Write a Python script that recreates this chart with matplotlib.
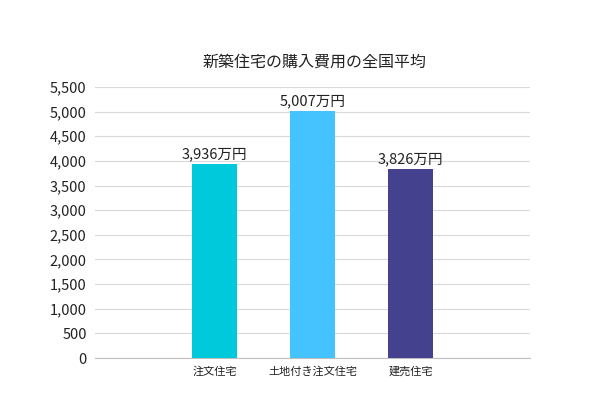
import matplotlib.pyplot as plt

plt.rcParams['font.family'] = ['Noto Sans CJK JP', 'DejaVu Sans']

categories = ['注文住宅', '土地付き注文住宅', '建売住宅']
values = [3936, 5007, 3826]
bar_colors = ['#00C9DB', '#45C3FF', '#44428F']
yticks = list(range(0, 5501, 500))

fig = plt.figure(figsize=(6, 4), dpi=100)
ax = fig.add_axes([95/600, 1 - 358/400, 435/600, 271/400])

x = [1, 2, 3]
ax.bar(x, values, width=0.46, color=bar_colors, zorder=3)
for xi, v in zip(x, values):
    ax.text(xi, v + 60, '{:,}万円'.format(v), ha='center', va='bottom',
            fontsize=10.5, color='#222222')

ax.set_xlim(1 - 1.22, 3 + 1.22)
ax.set_ylim(0, 5500)
ax.set_yticks(yticks)
ax.set_yticklabels(['{:,}'.format(t) for t in yticks], fontsize=10.5, color='#222222')
ax.set_xticks(x)
ax.set_xticklabels(categories, fontsize=8, color='#222222')
ax.grid(axis='y', color='#d9d9d9', lw=0.8, zorder=0)
for s in ['top', 'right', 'left']:
    ax.spines[s].set_visible(False)
ax.spines['bottom'].set_color('#bfbfbf')
ax.tick_params(length=0, pad=6)

fig.text(315/600, 1 - 62/400, '新築住宅の購入費用の全国平均', ha='center', va='center',
         fontsize=11.5, color='#222222')

fig.savefig('out.png')
